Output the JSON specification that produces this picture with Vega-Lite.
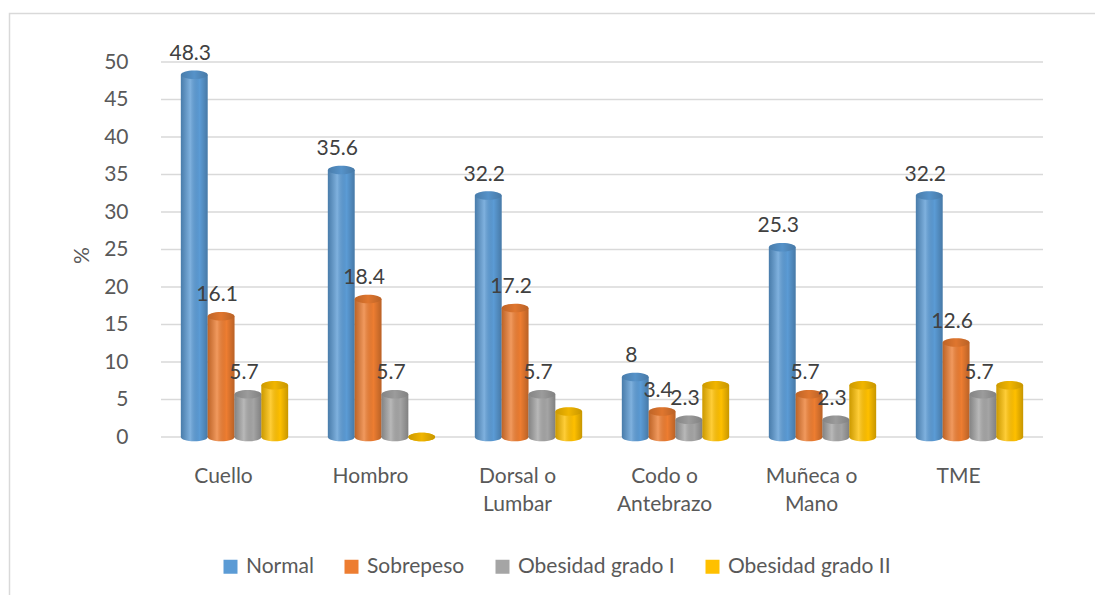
{
  "$schema": "https://vega.github.io/schema/vega-lite/v6.json",
  "autosize": "none",
  "width": 1090,
  "height": 586,
  "padding": {"left": 9.5, "top": 13.5, "right": -4.5, "bottom": -4.5},
  "background": "white",
  "config": {
    "view": {"stroke": "#d9d9d9", "strokeWidth": 1.5},
    "font": "Lato",
    "axis": {"labelColor": "#595959", "titleColor": "#595959", "labelFont": "Lato", "titleFont": "Lato"},
    "legend": {"labelColor": "#595959", "labelFont": "Lato"}
  },
  "resolve": {"scale": {"x": "independent"}},
  "layer": [
    {
      "data": {"values": [{"g": 0}, {"g": 5}, {"g": 10}, {"g": 15}, {"g": 20}, {"g": 25}, {"g": 30}, {"g": 35}, {"g": 40}, {"g": 45}, {"g": 50}]},
      "mark": {"type": "rule", "color": "#d9d9d9", "strokeWidth": 1.5},
      "encoding": {
        "x": {"datum": 0, "type": "quantitative", "scale": {"domain": [0, 1], "range": [151.5, 1033.5]}, "axis": null},
        "x2": {"datum": 1},
        "y": {"field": "g", "type": "quantitative", "scale": {"domain": [0, 50], "range": [423.5, 48.5], "nice": false}}
      }
    },
    {
      "data": {
        "values": [
          {"zona": "Cuello", "grupo": "Normal", "pct": 48.3},
          {"zona": "Cuello", "grupo": "Sobrepeso", "pct": 16.1},
          {"zona": "Cuello", "grupo": "Obesidad grado I", "pct": 5.7},
          {"zona": "Cuello", "grupo": "Obesidad grado II", "pct": 6.9},
          {"zona": "Hombro", "grupo": "Normal", "pct": 35.6},
          {"zona": "Hombro", "grupo": "Sobrepeso", "pct": 18.4},
          {"zona": "Hombro", "grupo": "Obesidad grado I", "pct": 5.7},
          {"zona": "Hombro", "grupo": "Obesidad grado II", "pct": 0},
          {"zona": "Dorsal o Lumbar", "grupo": "Normal", "pct": 32.2},
          {"zona": "Dorsal o Lumbar", "grupo": "Sobrepeso", "pct": 17.2},
          {"zona": "Dorsal o Lumbar", "grupo": "Obesidad grado I", "pct": 5.7},
          {"zona": "Dorsal o Lumbar", "grupo": "Obesidad grado II", "pct": 3.4},
          {"zona": "Codo o Antebrazo", "grupo": "Normal", "pct": 8},
          {"zona": "Codo o Antebrazo", "grupo": "Sobrepeso", "pct": 3.4},
          {"zona": "Codo o Antebrazo", "grupo": "Obesidad grado I", "pct": 2.3},
          {"zona": "Codo o Antebrazo", "grupo": "Obesidad grado II", "pct": 6.9},
          {"zona": "Muñeca o Mano", "grupo": "Normal", "pct": 25.3},
          {"zona": "Muñeca o Mano", "grupo": "Sobrepeso", "pct": 5.7},
          {"zona": "Muñeca o Mano", "grupo": "Obesidad grado I", "pct": 2.3},
          {"zona": "Muñeca o Mano", "grupo": "Obesidad grado II", "pct": 6.9},
          {"zona": "TME", "grupo": "Normal", "pct": 32.2},
          {"zona": "TME", "grupo": "Sobrepeso", "pct": 12.6},
          {"zona": "TME", "grupo": "Obesidad grado I", "pct": 5.7},
          {"zona": "TME", "grupo": "Obesidad grado II", "pct": 6.9}
        ]
      },
      "encoding": {
        "x": {
          "field": "zona",
          "type": "nominal",
          "sort": null,
          "scale": {"paddingInner": 0.27, "paddingOuter": 0.135, "range": [151.5, 1033.5]},
          "axis": {
            "title": null,
            "orient": "bottom",
            "offset": -162.5,
            "labelAngle": 0,
            "labelFontSize": 21,
            "labelPadding": 28,
            "labelOffset": -11,
            "labelLineHeight": 28,
            "labelBaseline": "top",
            "domain": false,
            "ticks": false,
            "grid": false,
            "labelExpr": "split(replace(datum.label, ' o ', ' o|'), '|')"
          }
        },
        "xOffset": {
          "field": "grupo",
          "type": "nominal",
          "sort": ["Normal", "Sobrepeso", "Obesidad grado I", "Obesidad grado II"],
          "scale": {"paddingInner": 0, "paddingOuter": 0}
        },
        "y": {
          "field": "pct",
          "type": "quantitative",
          "scale": {"domain": [0, 50], "range": [423.5, 48.5], "nice": false},
          "axis": {
            "title": "%",
            "offset": -151.5,
            "titleFontSize": 21,
            "titleFontWeight": "normal",
            "titleX": -79,
            "titleY": 241.5,
            "titleAlign": "center",
            "titleBaseline": "middle",
            "values": [0, 5, 10, 15, 20, 25, 30, 35, 40, 45, 50],
            "labelFontSize": 21,
            "labelPadding": 33,
            "labelBaseline": "middle",
            "domain": false,
            "ticks": false,
            "grid": false
          }
        },
        "color": {
          "field": "grupo",
          "type": "nominal",
          "scale": {"domain": ["Normal", "Sobrepeso", "Obesidad grado I", "Obesidad grado II"], "range": ["#5b9bd5", "#ed7d31", "#a5a5a5", "#ffc000"]},
          "legend": {
            "title": null,
            "orient": "none",
            "direction": "horizontal",
            "legendX": 210.5,
            "legendY": 542.5,
            "symbolType": "square",
            "symbolSize": 196,
            "symbolStrokeWidth": 0,
            "symbolOpacity": 1,
            "labelFontSize": 21,
            "labelOffset": 5,
            "labelLimit": 0,
            "columnPadding": 27
          }
        }
      },
      "layer": [
        {
          "mark": {"type": "point", "filled": true, "opacity": 1, "size": 718, "shape": "M-1,0A1,0.32,0,1,0,1,0A1,0.32,0,1,0,-1,0Z"},
          "encoding": {"y": {"datum": 0}}
        },
        {
          "mark": {"type": "point", "filled": true, "opacity": 1, "size": 718, "shape": "M-1,0A1,0.32,0,1,0,1,0A1,0.32,0,1,0,-1,0Z",
            "fill": {"gradient": "linear", "x1": 0, "y1": 0, "x2": 1, "y2": 0,
              "stops": [{"offset": 0, "color": "rgba(0,0,0,0.2)"}, {"offset": 0.35, "color": "rgba(255,255,255,0.22)"}, {"offset": 0.7, "color": "rgba(0,0,0,0)"}, {"offset": 1, "color": "rgba(0,0,0,0.22)"}]}},
          "encoding": {"y": {"datum": 0}, "color": {"value": null}}
        },
        {
          "mark": {"type": "bar"},
          "encoding": {}
        },
        {
          "mark": {"type": "bar",
            "fill": {"gradient": "linear", "x1": 0, "y1": 0, "x2": 1, "y2": 0,
              "stops": [{"offset": 0, "color": "rgba(0,0,0,0.2)"}, {"offset": 0.35, "color": "rgba(255,255,255,0.22)"}, {"offset": 0.7, "color": "rgba(0,0,0,0)"}, {"offset": 1, "color": "rgba(0,0,0,0.22)"}]}},
          "encoding": {"color": {"value": null}}
        },
        {
          "mark": {"type": "point", "filled": true, "opacity": 1, "size": 718, "shape": "M-1,0A1,0.32,0,1,0,1,0A1,0.32,0,1,0,-1,0Z"},
          "encoding": {}
        },
        {
          "mark": {"type": "point", "filled": true, "opacity": 1, "size": 718, "shape": "M-1,0A1,0.32,0,1,0,1,0A1,0.32,0,1,0,-1,0Z",
            "fill": {"gradient": "linear", "x1": 0, "y1": 0, "x2": 1, "y2": 0,
              "stops": [{"offset": 0, "color": "rgba(0,0,0,0.2)"}, {"offset": 0.5, "color": "rgba(0,0,0,0.06)"}, {"offset": 1, "color": "rgba(0,0,0,0.22)"}]}},
          "encoding": {"color": {"value": null}}
        },
        {
          "transform": [{"filter": "datum.grupo !== 'Obesidad grado II'"}],
          "mark": {"type": "text", "fontSize": 21, "baseline": "alphabetic", "dy": -15, "dx": -4},
          "encoding": {
            "text": {"field": "pct", "type": "quantitative", "format": ".1~f"},
            "color": {"value": "#404040"}
          }
        }
      ]
    }
  ]
}
